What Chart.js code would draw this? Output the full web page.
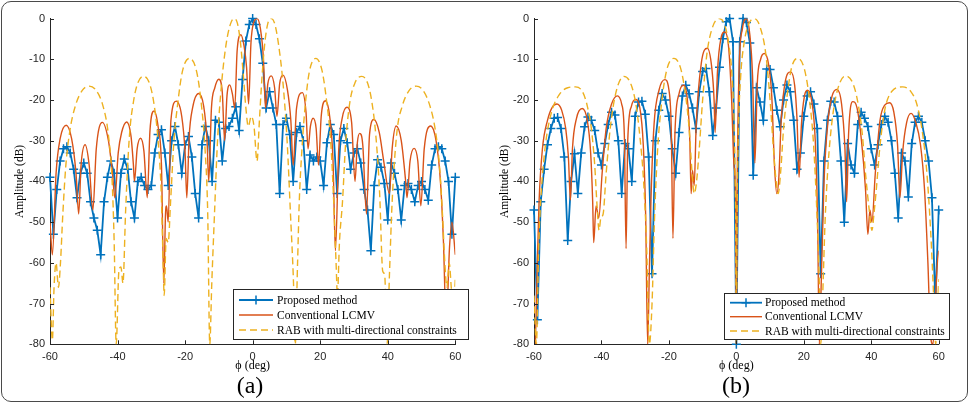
<!DOCTYPE html>
<html>
<head>
<meta charset="utf-8">
<script src="https://cdn.jsdelivr.net/npm/chart.js@4.4.1/dist/chart.umd.min.js"></script>
<style>
  html, body { margin: 0; padding: 0; background: #fff; }
  body { width: 970px; height: 404px; position: relative; overflow: hidden; }
  .frame { position: absolute; left: 1px; top: 1px; width: 967px; height: 401px; box-sizing: border-box;
           border: 1.5px solid #4a4a4a; border-radius: 10px; }
  .panel { position: absolute; top: 0; width: 485px; height: 404px; }
  .tag { position: absolute; top: 373px; width: 80px; text-align: center; font-family: "Liberation Serif", "DejaVu Serif", serif;
         font-size: 24px; line-height: 24px; color: #000; }
</style>
</head>
<body>
<div class="panel" style="left:0"><canvas id="ca" width="485" height="404"></canvas></div>
<div class="panel" style="left:485px"><canvas id="cb" width="485" height="404"></canvas></div>
<div class="tag" style="left:210px">(a)</div>
<div class="tag" style="left:696px">(b)</div>
<div class="frame"></div>
<script>
// ---------- DATA ----------
const SERIES_NAMES = ['Proposed method', 'Conventional LCMV', 'RAB with multi-directional constraints'];
const X_TICKS = [-60, -40, -20, 0, 20, 40, 60];
const Y_TICKS = [0, -10, -20, -30, -40, -50, -60, -70, -80];

// sample angles (deg) of the proposed-method curves
const ANGLES = [-60,-59,-58,-57,-56,-55,-54,-53,-52,-51,-50,-49,-48,-47,-46,-45,-44,-43,-42,-41,
  -40,-39,-38,-37,-36,-35,-34,-33,-32,-31,-30,-29,-28,-27,-26,-25,-24,-23,-22,-21,
  -20,-19,-18,-17,-16,-15,-14,-13,-12,-11,-10,-9,-8,-7,-6,-5,-4,-3,-2,-1,
  0,1,2,3,4,5,6,7,8,9,10,11,12,13,14,15,16,17,18,19,
  20,21,22,23,24,25,26,27,28,29,30,31,32,33,34,35,36,37,38,39,
  40,41,42,43,44,45,46,47,48,49,50,51,52,53,54,55,56,57,58,59,60];

// (a) Proposed method (dB)
const proposedA = [-39,-53,-42,-35,-32,-31.5,-33,-37,-44,-38,-35.5,-38,-45,-49,-52,-58,-45,-39,-35,-38,
  -49,-38,-34.5,-37,-45,-49,-40,-39,-41,-42,-41,-33,-28.5,-27.3,-33,-41,-30,-26.5,-31,-38,
  -31,-29,-34,-43,-49,-31,-26.5,-30,-40,-25,-25.5,-35,-27,-26.5,-24.5,-21.7,-27.5,-15,-5.5,-1.5,
  0,-1.5,-5,-11,-22,-18,-22,-26,-43,-26,-24.5,-28.5,-40,-28,-26.5,-30,-42,-33.5,-35,-34,
  -35,-41,-30.5,-26,-28.5,-43,-30,-27,-30.5,-37,-33,-32,-35.5,-42,-47,-57,-41,-34.7,-36.5,-40.5,
  -49.5,-35.5,-38,-42,-49.5,-41,-40.5,-42,-45,-41,-40,-42,-44.6,-36,-32,-31.5,-32,-35,-40,-53,-39];

// (b) Proposed method (dB)
const proposedB = [-47,-74,-45,-37,-31,-27,-24.5,-24.3,-27,-34,-54.5,-40,-33.2,-43,-33,-26.6,-24.2,-25,-27.5,-33,
  -36,-30.7,-26,-23,-23.7,-30,-43,-30.7,-32,-40,-24,-20.5,-20.3,-23.5,-34,-62.7,-30,-22.5,-18.4,-20,
  -24,-32,-38,-28,-19,-16.4,-18.5,-22,-27,-18,-13,-12.3,-18,-28.7,-22,-12,-5,-0.8,0,-5.7,
  -80,-5.7,0,-1,-6,-38.5,-17,-20.5,-25,-12.4,-12.5,-17,-22.5,-26.6,-20,-16.3,-18,-25,-37,-33,
  -24,-19,-18,-21,-27,-62.7,-35,-25,-20.3,-20.5,-24,-35,-50,-30.7,-36,-38,-26,-23,-24.5,-26.5,
  -32,-36,-31,-26,-24,-25.5,-30,-38,-49,-33,-35,-43.8,-30.7,-25.5,-24,-25.5,-30,-35,-44,-70,-47];

// (a) Conventional LCMV [deg, dB]
const lcmvA = [[-60,-50],[-59.3,-58],[-58.2,-38],[-57,-29.5],[-55.2,-26.2],[-53.6,-29.5],[-52.3,-38],[-51.5,-48],
  [-50.8,-36],[-49.6,-31],[-48.4,-36],[-47.3,-47],
  [-46.3,-32],[-44.5,-25.5],[-42.7,-30],[-41.5,-38],[-40.8,-44],
  [-39.8,-33],[-38.8,-28],[-37.3,-25.4],[-36,-29],[-35.3,-36],[-35,-40],
  [-34.2,-32],[-33.2,-29.4],[-32.2,-32.5],[-31.2,-44],
  [-30.4,-27.5],[-29.2,-22.7],[-28,-26.5],[-27,-36],[-26.3,-65],[-25.8,-48],[-25.5,-46],[-25,-50],
  [-24.2,-25],[-22.6,-20.3],[-21,-24],[-20,-33],[-19.5,-44],
  [-18.8,-29],[-17.8,-22],[-16,-18.4],[-14.5,-21.5],[-13.5,-30],[-13,-40],
  [-12.2,-22],[-11.2,-17],[-10,-14.9],[-9,-18],[-8.3,-30],
  [-7.6,-19],[-6.8,-16.3],[-6,-18.5],[-5.3,-22],
  [-4.6,-8],[-3.5,-4],[-2.5,-7],[-1.8,-12],[-1.2,-21],
  [-0.5,-6],[0.3,-1],[1.3,0],[2.3,-2.5],[3.2,-10],[3.8,-22],
  [4.5,-16],[5.5,-14.1],[6.5,-17],[7.2,-24],
  [8,-16],[9,-13.9],[10.3,-17.5],[11.3,-25],[12,-36],
  [13,-22],[14.7,-18.2],[15.8,-23],[16.4,-32],
  [17.1,-26.5],[17.9,-24.5],[18.8,-27],[19.5,-36],
  [20.3,-24],[21.5,-20.2],[22.8,-24],[23.8,-35],[24.5,-57],
  [25.5,-32],[26.5,-24.5],[27.9,-21.8],[29.3,-25.5],[30.3,-40],
  [31,-30.5],[31.7,-28.2],[32.6,-31],[33.7,-48],
  [34.6,-28.5],[35.9,-24.8],[37.5,-28],[38.8,-35],[40.5,-43],
  [41.3,-32],[42.5,-26.4],[44,-30],[45.3,-40],[45.7,-44],
  [46.6,-35],[47.8,-31.9],[48.9,-35],[49.8,-46],
  [50.8,-32],[52.7,-26.4],[54.3,-30],[55.6,-40],[56.5,-55],[57.3,-75],
  [58.3,-56],[59,-50],[60,-58]];

// (a) RAB with multi-directional constraints [deg, dB]
const rabA = [[-60,-66],[-59.3,-79],[-58.8,-66],[-58.2,-60],[-57.5,-66],[-56.9,-60],[-56.2,-48],[-55.3,-36],[-54,-27],
  [-52.5,-21.5],[-50.5,-17.7],[-48.4,-16.6],[-46.3,-17.7],[-44.3,-21.5],[-42.8,-28],[-41.6,-40],[-41,-55],[-40.4,-80],
  [-39.6,-62],[-39,-61],[-38.4,-65],[-37.6,-47],[-36.5,-29],[-35.3,-20.5],[-34,-15.8],[-32.3,-14.2],[-30.6,-15.8],
  [-29.3,-20.5],[-28.1,-29],[-27.1,-42],[-26.5,-60],[-26.2,-68],[-25.6,-54],[-25,-55],[-24.3,-45],[-23.3,-30],
  [-22.2,-21],[-20.8,-13],[-18.7,-9.8],[-16.6,-13],[-15.2,-21],[-14.1,-32],[-13.3,-48],[-12.7,-80],[-12.1,-65],
  [-11.3,-48],[-10.4,-30],[-9.2,-16],[-7.8,-6],[-6.5,-1.2],[-5.5,0],[-4.5,-1.2],[-3.6,-6],[-2.8,-13.5],[-2,-22],
  [-1.3,-26.5],[-0.4,-24],[0.4,-26.5],[1.3,-35],[2,-25],[2.8,-14],[3.6,-6],[4.5,-1.2],[5.5,0],[6.5,-1.2],[7.6,-6],
  [9,-16],[10.2,-30],[11.2,-48],[12.1,-65],[12.6,-80],[13.3,-60],[13.8,-45],[14.6,-32],[15.6,-21],[16.8,-13],
  [18.7,-9.8],[20.6,-13],[22,-21],[23.1,-30],[24,-45],[24.7,-60],[25.1,-68],[25.7,-55],[26.6,-45],[27.5,-31],
  [28.7,-21],[30.3,-15.8],[32.3,-14.2],[34,-15.8],[35.3,-20.5],[36.5,-29],[37.6,-43],[38.5,-62],[39.1,-63],
  [39.8,-80],[40.5,-63],[41.3,-45],[42.7,-28],[44.3,-21.5],[46.3,-17.7],[48.4,-16.6],[50.5,-17.7],[52.5,-21.5],
  [54,-27],[55.3,-36],[56.2,-48],[56.9,-60],[57.5,-66],[58.2,-60],[58.8,-66],[59.4,-72],[60,-64]];

// (b) Conventional LCMV [deg, dB]
const lcmvB = [[-59.6,-80],[-59,-60],[-58.5,-45],[-57.5,-32],[-56,-25],[-54.6,-21.8],[-53.2,-21],[-51.8,-22.5],[-50.6,-27],
  [-49.8,-34],[-49.2,-44.6],[-48.6,-32],[-47.4,-24.5],[-45.7,-22.1],[-44.2,-25],[-43.2,-33],[-42.6,-45],[-42.3,-55],
  [-41.6,-46],[-40.8,-49],[-39.8,-38],[-38.6,-27],[-37,-21],[-35.3,-19],[-34,-21],[-33.2,-29],[-32.7,-56.5],
  [-32.2,-30],[-31.1,-21.5],[-29.9,-19.9],[-28.6,-22],[-27.6,-31],[-26.9,-48],[-26.3,-80],[-25.8,-62],[-25.3,-44],
  [-24.4,-26],[-22.9,-17.5],[-21.2,-15],[-20,-17.5],[-19.3,-27],[-18.8,-54],[-18.2,-28],[-17,-18.5],[-15.5,-16.4],
  [-14.4,-21],[-13.8,-30],[-13.4,-43],[-13,-37.3],[-12.5,-41],[-11.9,-26],[-10.4,-11],[-8.6,-7.3],[-7.3,-12],
  [-6.6,-20],[-6.3,-28],[-5.6,-13],[-4.6,-5],[-3.4,-3.3],[-2.3,-7],[-1.4,-20],[-0.7,-36],[-0.2,-45],[0,-80],
  [0.2,-46],[0.8,-13],[1.8,-2.5],[3,0],[4,-4],[4.8,-14],[5.5,-35.5],[6.2,-16],[7.2,-10],[8.3,-8.6],[9.5,-11],
  [10.5,-19],[11.3,-36],[12,-43],[12.6,-39],[13.3,-25],[14.5,-15.5],[16.1,-13.1],[17.3,-16.5],[18,-25],[18.6,-39],
  [19.3,-26],[20.2,-19],[21.1,-17.6],[22.3,-20],[23.4,-30],[24.1,-50],[24.6,-80],[25.2,-64],[26,-40],[27.2,-25],
  [28.4,-19],[29.8,-17.4],[31.2,-21],[32.2,-32],[32.7,-45],[33.3,-28],[34.5,-20.4],[35.8,-22],[37.1,-30],[38.3,-42],
  [39,-53],[39.6,-47],[40.2,-50],[41.2,-38],[42.6,-25],[44,-21.3],[45.4,-20.7],[46.7,-23],[47.8,-31],[48.5,-44],
  [49.3,-33],[50.5,-25.5],[51.8,-23.3],[53.2,-25.5],[54.6,-31],[55.8,-42],[56.8,-60],[57.6,-78],[58.3,-80],
  [59,-70],[59.6,-60],[60,-57]];

// (b) RAB with multi-directional constraints [deg, dB]
const rabB = [[-60,-68],[-59.3,-80],[-58.6,-56],[-57.8,-42],[-56.6,-31],[-54.8,-23],[-52.5,-18.7],[-50,-17],[-47.7,-16.8],
  [-45.6,-18],[-44.2,-21.5],[-43,-27],[-42,-36],[-41.3,-46],[-40.7,-52],[-40.2,-49],[-39.5,-48],[-38.6,-38],[-37.4,-27],
  [-35.8,-18.5],[-33.4,-14.2],[-31.3,-16],[-29.8,-21],[-28.6,-29],[-27.5,-40],[-26.6,-56],[-25.8,-80],[-25,-70],
  [-24.3,-50],[-23.4,-33],[-22.2,-21],[-20.6,-12.5],[-18.5,-9.8],[-16.6,-12],[-15.2,-18],[-14,-27],[-13.2,-37],
  [-12.5,-43],[-11.8,-40],[-11,-32],[-10,-20],[-8.7,-8.5],[-7,-2],[-5.1,0],[-3.5,-1.5],[-2.3,-6],[-1.3,-14],
  [-0.6,-28],[-0.2,-50],[0,-80],[0.2,-50],[0.6,-28],[1.3,-14],[2.3,-6],[3.6,-1.5],[5.3,0],[7,-2],[8.7,-8.5],
  [10,-20],[11,-32],[11.8,-40],[12.4,-43],[13.2,-37],[14,-27],[15.2,-18],[16.4,-12],[18.2,-9.8],[20.2,-12.5],
  [21.7,-20],[22.9,-31],[23.9,-48],[24.6,-65],[25,-80],[25.6,-68],[26.3,-50],[27.2,-36],[28.4,-25],[30,-17.5],
  [32.4,-14.1],[34.6,-16],[36,-20.5],[37.3,-28],[38.4,-39],[39.4,-47],[40.2,-52],[40.8,-48],[41.5,-42],[42.5,-32],
  [44,-22.5],[46.2,-17.8],[49.3,-16.8],[51.8,-18],[53.5,-21],[55,-27],[56.4,-37],[57.6,-52],[58.6,-70],[59.1,-80],
  [59.7,-70],[60,-64]];

// ---------- STYLE / CHART ----------
const BLUE = '#0072BD', ORANGE = '#D95319', YELLOW = '#EDB120', AXIS = '#262626';
const SANS = '"Liberation Sans", Arial, Helvetica, sans-serif';
const SERIF = '"Liberation Serif", "Times New Roman", serif';

const zipXY = (xs, ys) => xs.map((x, i) => ({ x, y: ys[i] }));
const pairs = arr => arr.map(([x, y]) => ({ x, y }));

const innerTicks = {
  id: 'innerTicks',
  afterDatasetsDraw(chart) {
    const { ctx, chartArea: a, scales: { x, y } } = chart;
    ctx.save();
    ctx.strokeStyle = AXIS; ctx.lineWidth = 1;
    ctx.beginPath();
    x.ticks.forEach(t => { const p = Math.round(x.getPixelForValue(t.value)) + 0.5; ctx.moveTo(p, a.bottom); ctx.lineTo(p, a.bottom - 4); });
    y.ticks.forEach(t => { const p = Math.round(y.getPixelForValue(t.value)) + 0.5; ctx.moveTo(a.left, p); ctx.lineTo(a.left + 4, p); });
    ctx.stroke();
    ctx.restore();
  }
};

const boxLegend = {
  id: 'boxLegend',
  afterDraw(chart, args, o) {
    const ctx = chart.ctx;
    ctx.save();
    ctx.fillStyle = '#fff';
    ctx.fillRect(o.x, o.y, o.w, o.h);
    ctx.strokeStyle = AXIS; ctx.lineWidth = 1;
    ctx.strokeRect(Math.round(o.x) + 0.5, Math.round(o.y) + 0.5, Math.round(o.w), Math.round(o.h));
    chart.data.datasets.forEach((ds, i) => {
      const cy = o.y + o.rows[i];
      ctx.strokeStyle = ds.borderColor;
      ctx.lineWidth = ds.borderWidth;
      ctx.setLineDash(ds.borderDash || []);
      ctx.beginPath(); ctx.moveTo(o.s0, cy); ctx.lineTo(o.s1, cy); ctx.stroke();
      ctx.setLineDash([]);
      if (ds.pointRadius > 0) {
        const mx = (o.s0 + o.s1) / 2, r = ds.pointRadius;
        ctx.lineWidth = ds.pointBorderWidth;
        ctx.beginPath(); ctx.moveTo(mx - r, cy); ctx.lineTo(mx + r, cy); ctx.moveTo(mx, cy - r); ctx.lineTo(mx, cy + r); ctx.stroke();
      }
      ctx.fillStyle = '#000';
      ctx.font = '11.5px ' + SERIF;
      ctx.textBaseline = 'middle';
      ctx.fillText(ds.label, o.tx, cy + 0.5);
    });
    ctx.restore();
  }
};

function makeChart(id, blueY, lcmv, rab, geo) {
  return new Chart(document.getElementById(id), {
    type: 'line',
    data: {
      datasets: [
        { label: SERIES_NAMES[0], data: zipXY(ANGLES, blueY), borderColor: BLUE, backgroundColor: BLUE,
          borderWidth: 1.8, tension: 0, pointStyle: 'cross', pointRadius: 4.5, pointBorderWidth: 1.5,
          pointBorderColor: BLUE, pointHoverRadius: 4.5, order: 2, clip: false },
        { label: SERIES_NAMES[1], data: pairs(lcmv), borderColor: ORANGE, borderWidth: 1.4,
          cubicInterpolationMode: 'monotone', pointRadius: 0, order: 1 },
        { label: SERIES_NAMES[2], data: pairs(rab), borderColor: YELLOW, borderWidth: 1.4, borderDash: [7, 4],
          cubicInterpolationMode: 'monotone', pointRadius: 0, order: 0 }
      ]
    },
    options: {
      responsive: false, animation: false, events: [],
      layout: { padding: { left: 0, top: 18.5, right: geo.padRight, bottom: 0 } },
      plugins: {
        legend: { display: false }, tooltip: { enabled: false },
        boxLegend: geo.legend
      },
      scales: {
        x: {
          type: 'linear', min: X_TICKS[0], max: X_TICKS[X_TICKS.length - 1],
          afterBuildTicks: s => { s.ticks = X_TICKS.map(v => ({ value: v })); },
          afterFit: s => { s.height = 404 - 344.3; },
          grid: { display: false, drawTicks: false },
          border: { display: true, color: AXIS, width: 1 },
          ticks: { color: AXIS, font: { family: SANS, size: 11 }, padding: 6, maxRotation: 0 },
          title: { display: true, text: 'ϕ (deg)', color: '#000', font: { family: SERIF, size: 12, lineHeight: 1.2 },
                   padding: { top: 0, bottom: 30.5 } }
        },
        y: {
          type: 'linear', min: -80, max: 0,
          afterBuildTicks: s => { s.ticks = Y_TICKS.slice().reverse().map(v => ({ value: v })); },
          afterFit: s => { s.width = geo.yWidth; },
          grid: { display: false, drawTicks: false },
          border: { display: true, color: AXIS, width: 1 },
          ticks: { color: AXIS, font: { family: SANS, size: 11 }, padding: 5 },
          title: { display: true, text: 'Amplitude (dB)', color: '#000', font: { family: SERIF, size: 11.5, lineHeight: 1.2 },
                   padding: { top: 13, bottom: 0 } }
        }
      }
    },
    plugins: [innerTicks, boxLegend]
  });
}

makeChart('ca', proposedA, lcmvA, rabA, {
  padRight: 485 - 455.3, yWidth: 50,
  legend: { x: 233, y: 289, w: 235, h: 50, rows: [11, 26, 41], s0: 239, s1: 273, tx: 277 }
});
makeChart('cb', proposedB, lcmvB, rabB, {
  padRight: 485 - 453.7, yWidth: 49,
  legend: { x: 238.7, y: 293, w: 224.6, h: 46, rows: [9.7, 23.7, 38], s0: 245, s1: 277, tx: 280 }
});
</script>
</body>
</html>
